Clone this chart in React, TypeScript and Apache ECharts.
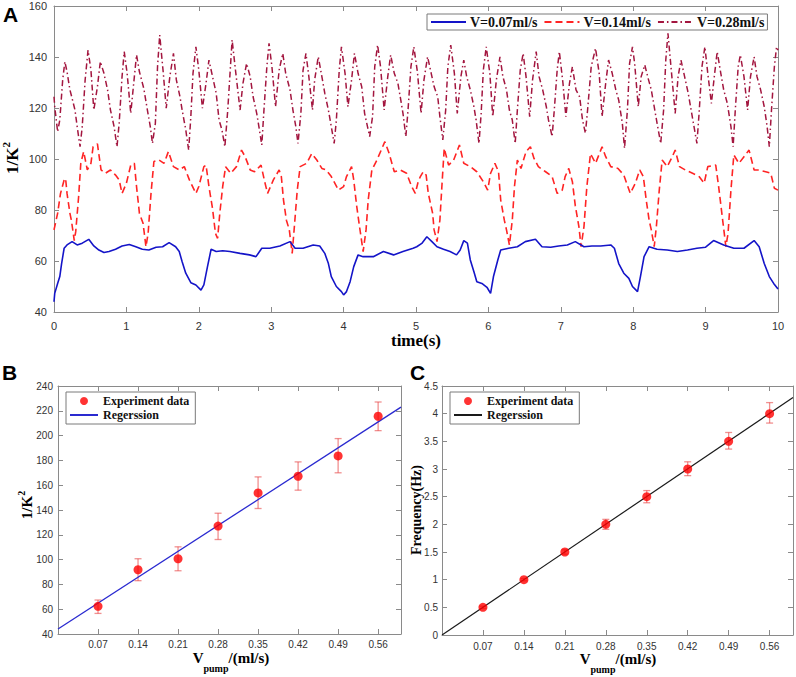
import React, { useEffect, useRef } from 'react';
import * as echarts from 'echarts';

// ---------- Panel A data (time in s, value 1/K^2) ----------
const flow007: [number, number][] = [
  [0.0, 44.0], [0.01, 47.3], [0.05, 51.2], [0.08, 53.9], [0.105, 59], [0.14, 65], [0.18, 66.3], [0.25, 67.6],
  [0.32, 66.3], [0.39, 67], [0.48, 68.5], [0.55, 65.9], [0.62, 64.3], [0.69, 63.3], [0.76, 63.7], [0.85, 64.6],
  [0.94, 65.9], [1.04, 66.5], [1.13, 65.6], [1.22, 64.6], [1.31, 64.3], [1.41, 65.4], [1.5, 65.6], [1.59, 67.2],
  [1.68, 65.6], [1.73, 63.7], [1.77, 59.7], [1.82, 55.2], [1.89, 51.5], [1.96, 50.6], [2.03, 48.6], [2.07, 50.6],
  [2.12, 57.8], [2.17, 64.6], [2.24, 63.7], [2.33, 64], [2.43, 63.7], [2.57, 63], [2.7, 62.4], [2.79, 61.7],
  [2.87, 65], [2.98, 65], [3.12, 65.9], [3.26, 67.6], [3.33, 65], [3.44, 65], [3.58, 66.3], [3.67, 65.9],
  [3.74, 63], [3.79, 59], [3.83, 53.9], [3.9, 50], [3.97, 48], [4.0, 46.7], [4.04, 48], [4.09, 51.9],
  [4.14, 57.8], [4.2, 62.4], [4.27, 61.7], [4.41, 61.7], [4.55, 63.7], [4.69, 62.4], [4.82, 63.7], [4.96, 65],
  [5.01, 65.6], [5.08, 66.9], [5.15, 69.5], [5.22, 67.6], [5.29, 65.6], [5.38, 64.6], [5.47, 63.7], [5.56, 62.4],
  [5.61, 64.3], [5.66, 68], [5.71, 67], [5.75, 60.4], [5.8, 55.8], [5.84, 51.9], [5.91, 51.2], [5.98, 49.7],
  [6.03, 47.3], [6.07, 53.9], [6.13, 60.4], [6.17, 64.3], [6.28, 65], [6.4, 65.6], [6.51, 67.6], [6.65, 68.5],
  [6.74, 65.6], [6.86, 65.4], [6.97, 65.9], [7.09, 66.3], [7.2, 67.6], [7.32, 65.6], [7.43, 65.9], [7.55, 65.9],
  [7.69, 66.3], [7.74, 65], [7.8, 59], [7.87, 55.2], [7.94, 53.2], [7.99, 50], [8.06, 48], [8.1, 53.9],
  [8.15, 61.7], [8.22, 65.6], [8.33, 64.6], [8.47, 64.3], [8.61, 63.7], [8.75, 64.3], [8.88, 65], [9.0, 65.4],
  [9.11, 68], [9.25, 66.3], [9.39, 65], [9.53, 65], [9.67, 68], [9.74, 65.6], [9.81, 59], [9.88, 53.9],
  [9.94, 51.2], [10.0, 49],
];

const flow014: [number, number][] = [
  [0.0, 72.2], [0.05, 78.7], [0.09, 86.5], [0.14, 91.8], [0.16, 92.4], [0.18, 86.5], [0.22, 78.7], [0.24, 76],
  [0.28, 68], [0.3, 71.5], [0.34, 85.2], [0.37, 98.3], [0.41, 102.9], [0.46, 95.7], [0.51, 98.3], [0.54, 104.8],
  [0.6, 105.9], [0.65, 95.7], [0.71, 94.4], [0.78, 95.7], [0.85, 93.7], [0.9, 91.8], [0.94, 86.5], [1.0, 90.5],
  [1.06, 97.6], [1.11, 98.3], [1.14, 89.2], [1.18, 78.7], [1.23, 74.8], [1.27, 65.6], [1.3, 70.8], [1.34, 86.5],
  [1.38, 99], [1.45, 99.6], [1.52, 98.3], [1.58, 102.9], [1.65, 97], [1.73, 95.7], [1.8, 97], [1.87, 91.8],
  [1.96, 86.5], [2.0, 89.2], [2.07, 97], [2.1, 97.6], [2.14, 89.2], [2.19, 80.5], [2.23, 70.8], [2.26, 68.9],
  [2.29, 78.7], [2.33, 89.2], [2.37, 97], [2.44, 94.4], [2.52, 97], [2.59, 103.5], [2.64, 100.9], [2.71, 95.7],
  [2.77, 95], [2.86, 97.6], [2.91, 91.1], [2.95, 86.5], [3.03, 91.8], [3.11, 95.7], [3.14, 93.1], [3.17, 83.9],
  [3.21, 76], [3.25, 72.2], [3.29, 63], [3.32, 73.5], [3.36, 87.8], [3.4, 97], [3.49, 98.3], [3.56, 102.1],
  [3.63, 99.6], [3.7, 96.3], [3.76, 95.7], [3.83, 93.1], [3.93, 87.8], [4.0, 89.2], [4.04, 93.1], [4.11, 97],
  [4.14, 91.8], [4.18, 81.7], [4.22, 73.5], [4.27, 63.7], [4.31, 72.2], [4.34, 83.9], [4.39, 95.7], [4.46, 99.6],
  [4.53, 104.2], [4.57, 106.8], [4.63, 102.1], [4.7, 95], [4.78, 95.7], [4.87, 94.4], [4.94, 89.2], [4.99, 86.5],
  [5.03, 91.1], [5.06, 93.1], [5.1, 95], [5.14, 93.7], [5.17, 86.5], [5.23, 78.7], [5.25, 72.2], [5.29, 67.6],
  [5.33, 76], [5.36, 90.5], [5.39, 104.2], [5.45, 97.6], [5.52, 99.6], [5.6, 105.5], [5.66, 98.3], [5.75, 97],
  [5.84, 95], [5.93, 91.1], [5.99, 87.8], [6.03, 94.4], [6.09, 98.3], [6.14, 95], [6.17, 83.9], [6.22, 76],
  [6.25, 72.2], [6.29, 66.3], [6.33, 76], [6.36, 89.2], [6.4, 99.6], [6.45, 96.3], [6.52, 102.9], [6.58, 104.8],
  [6.63, 100.2], [6.69, 97], [6.79, 95], [6.88, 93.1], [6.95, 86.5], [7.02, 87.8], [7.06, 93.1], [7.11, 96.3],
  [7.16, 91.1], [7.2, 81.7], [7.25, 73.5], [7.28, 65.6], [7.32, 73.5], [7.36, 89.2], [7.41, 102.1], [7.48, 98.3],
  [7.57, 104.8], [7.62, 100.9], [7.69, 97], [7.79, 96.3], [7.87, 93.7], [7.96, 86.5], [8.03, 90.5], [8.09, 95.7],
  [8.14, 93.1], [8.18, 83.9], [8.22, 76], [8.25, 72.2], [8.29, 65.6], [8.32, 73.5], [8.36, 87.8], [8.4, 99.6],
  [8.47, 97], [8.54, 100.9], [8.58, 103.5], [8.64, 97], [8.72, 95.7], [8.82, 94.4], [8.91, 93.1], [8.98, 90.5],
  [9.03, 97], [9.14, 97.6], [9.18, 89.2], [9.23, 77.4], [9.28, 65.6], [9.31, 70.8], [9.35, 87.8], [9.39, 101.6],
  [9.46, 98.3], [9.53, 100.9], [9.6, 103.5], [9.67, 95.7], [9.74, 95.7], [9.83, 95], [9.9, 94.4], [9.95, 88.5],
  [10.0, 87.8],
];

const flow028: [number, number][] = [
  [0.0, 124.4], [0.01, 120.5], [0.05, 110.7], [0.08, 115.3], [0.12, 131], [0.15, 138.2], [0.18, 134.2], [0.22, 127.1],
  [0.25, 123.8], [0.29, 119.2], [0.32, 112.7], [0.36, 104.8], [0.39, 112.7], [0.43, 131], [0.47, 142.7], [0.51, 134.9],
  [0.55, 119.2], [0.6, 128.4], [0.64, 138.2], [0.69, 133.6], [0.74, 127.1], [0.78, 119.2], [0.83, 112.7], [0.87, 104.8],
  [0.9, 114], [0.94, 132.3], [0.97, 142.1], [1.01, 133.6], [1.06, 117.9], [1.11, 132.3], [1.14, 140.8], [1.18, 134.2],
  [1.24, 127.7], [1.29, 119.2], [1.33, 112.7], [1.36, 106.1], [1.4, 114], [1.43, 136.2], [1.46, 148.6], [1.51, 133.6],
  [1.55, 119.9], [1.6, 132.3], [1.65, 141.4], [1.69, 131], [1.74, 124.4], [1.77, 119.2], [1.82, 111.4], [1.86, 103.5],
  [1.89, 116.6], [1.92, 133.6], [1.96, 144], [2.0, 134.9], [2.05, 119.9], [2.1, 129.7], [2.14, 138.8], [2.19, 132.3],
  [2.24, 125.8], [2.28, 115.3], [2.32, 111.4], [2.36, 104.8], [2.4, 119.2], [2.46, 146.7], [2.51, 134], [2.57, 119.2],
  [2.61, 129.7], [2.66, 137.5], [2.71, 132.3], [2.75, 124.4], [2.8, 117.9], [2.83, 112.7], [2.87, 105.5], [2.9, 119.2],
  [2.94, 136.2], [2.97, 145.4], [3.01, 136.2], [3.06, 120.5], [3.11, 134.9], [3.16, 141.4], [3.2, 133.6], [3.26, 127.1],
  [3.3, 119.2], [3.34, 112.7], [3.37, 106.1], [3.41, 117.9], [3.44, 134.9], [3.48, 141.4], [3.52, 132.3], [3.57, 119.2],
  [3.6, 131], [3.65, 140.1], [3.7, 132.3], [3.74, 125.8], [3.79, 119.2], [3.83, 112.7], [3.87, 106.1], [3.9, 115.3],
  [3.94, 134.9], [3.97, 144], [4.02, 133.6], [4.06, 120.5], [4.11, 131], [4.15, 141.4], [4.2, 133.6], [4.25, 128.4],
  [4.29, 117.9], [4.33, 112.7], [4.36, 108.8], [4.4, 116.6], [4.43, 136.2], [4.47, 144.7], [4.51, 136.2], [4.56, 119.2],
  [4.61, 132.3], [4.65, 140.8], [4.7, 133.6], [4.75, 129.7], [4.79, 123.1], [4.82, 117.9], [4.86, 108.8], [4.89, 119.2],
  [4.93, 136.2], [4.97, 144], [5.02, 134], [5.07, 117.9], [5.11, 131], [5.16, 140.1], [5.21, 133.6], [5.25, 128.4],
  [5.3, 124.4], [5.33, 116.6], [5.37, 107.5], [5.41, 119.2], [5.44, 136.2], [5.48, 144.7], [5.53, 133.6], [5.57, 117.9],
  [5.62, 132.3], [5.66, 138.8], [5.7, 132.3], [5.75, 127.1], [5.8, 120.5], [5.83, 115.3], [5.87, 106.1], [5.9, 117.9],
  [5.93, 134.9], [5.97, 144], [6.02, 133.6], [6.06, 116.6], [6.11, 131], [6.16, 140.1], [6.2, 132.3], [6.25, 127.1],
  [6.29, 119.2], [6.33, 115.3], [6.37, 106.1], [6.4, 119.2], [6.44, 134.9], [6.48, 141.4], [6.52, 132.3], [6.57, 116.6],
  [6.61, 131], [6.66, 142.1], [6.7, 132.3], [6.75, 127.1], [6.8, 120.5], [6.83, 115.3], [6.88, 108.8], [6.91, 119.2],
  [6.95, 134.9], [6.98, 142.1], [7.03, 129.7], [7.07, 116.6], [7.12, 129.7], [7.16, 136.2], [7.21, 127.1], [7.26, 124.4],
  [7.3, 115.3], [7.34, 110.1], [7.37, 119.2], [7.42, 136.2], [7.48, 143.4], [7.53, 133.6], [7.57, 116.6], [7.62, 129.7],
  [7.66, 138.8], [7.71, 133.6], [7.76, 127.1], [7.8, 123.1], [7.85, 114], [7.88, 104.2], [7.92, 119.2], [7.95, 137.5],
  [7.99, 144], [8.02, 137.5], [8.07, 120.5], [8.11, 132.3], [8.16, 136.9], [8.2, 132.3], [8.25, 127.1], [8.29, 120.5],
  [8.33, 114], [8.38, 106.1], [8.42, 119.2], [8.45, 138.8], [8.48, 149.3], [8.53, 133.6], [8.58, 117.9], [8.62, 132.3],
  [8.66, 138.8], [8.71, 132.3], [8.76, 125.8], [8.8, 119.2], [8.84, 112.7], [8.88, 106.1], [8.91, 117.9], [8.95, 136.2],
  [8.99, 144], [9.03, 133.6], [9.08, 121.8], [9.12, 132.3], [9.16, 142.1], [9.21, 133.6], [9.25, 127.1], [9.3, 121.8],
  [9.35, 112.7], [9.38, 104.8], [9.41, 119.2], [9.45, 136.2], [9.48, 140.8], [9.53, 132.3], [9.58, 119.2], [9.62, 132.3],
  [9.67, 140.1], [9.71, 132.3], [9.76, 127.1], [9.81, 120.5], [9.85, 112.7], [9.88, 104.8], [9.91, 119.2], [9.95, 136.2],
  [9.98, 144], [10.0, 142.7],
];

const seriesNamesA = ['V=0.07ml/s', 'V=0.14ml/s', 'V=0.28ml/s'];

// ---------- Panels B and C ----------
const pumpRates = [0.07, 0.14, 0.21, 0.28, 0.35, 0.42, 0.49, 0.56];
const invK2 = [62.3, 91.8, 100.7, 127, 153.8, 167.2, 183.6, 215.6];
const invK2Low = [56.6, 83, 91, 116.2, 141.2, 156, 170, 204];
const invK2High = [67.4, 100.7, 110.3, 137.4, 166.7, 178.8, 197.6, 227.1];
const regressionB: [number, number][] = [[0, 44], [0.6, 223]];

const frequency = [0.5, 1, 1.5, 2, 2.5, 3, 3.5, 4];
const frequencyLow = [0.48, 0.98, 1.46, 1.91, 2.39, 2.88, 3.36, 3.83];
const frequencyHigh = [0.52, 1.02, 1.54, 2.09, 2.61, 3.13, 3.66, 4.2];
const regressionC: [number, number][] = [[0, 0], [0.6, 4.29]];

const SERIF = '"Liberation Serif", "Times New Roman", serif';
const SANS = '"Liberation Sans", Arial, sans-serif';
const AXIS_GRAY = '#8a8a8a';
const LABEL_COLOR = '#333333';

function boxAxes(gridIndex: number, kind: 'x' | 'y', min: number, max: number, interval: number, labelOpts: any) {
  const main = {
    type: 'value', gridIndex, min, max, interval,
    position: kind === 'x' ? 'bottom' : 'left',
    axisLine: { show: true, onZero: false, lineStyle: { color: AXIS_GRAY, width: 1 } },
    axisTick: { show: true, inside: true, length: 5, lineStyle: { color: AXIS_GRAY } },
    axisLabel: { color: LABEL_COLOR, fontFamily: SANS, ...labelOpts },
    splitLine: { show: false },
  };
  const mirror = {
    type: 'value', gridIndex, min, max, interval,
    position: kind === 'x' ? 'top' : 'right',
    axisLine: { show: true, onZero: false, lineStyle: { color: AXIS_GRAY, width: 1 } },
    axisTick: { show: true, inside: true, length: 5, lineStyle: { color: AXIS_GRAY } },
    axisLabel: { show: false },
    splitLine: { show: false },
  };
  return [main, mirror];
}

function errorBars(xAxisIndex: number, yAxisIndex: number, lows: number[], highs: number[]) {
  return {
    type: 'custom',
    xAxisIndex, yAxisIndex,
    silent: true,
    z: 1,
    data: pumpRates.map((x, i) => [x, lows[i], highs[i]]),
    encode: { x: 0, y: [1, 2] },
    renderItem: (_params: any, api: any) => {
      const x = api.value(0);
      const lo = api.coord([x, api.value(1)]);
      const hi = api.coord([x, api.value(2)]);
      const cap = 3.5;
      const style = { stroke: 'rgba(232,70,70,0.6)', lineWidth: 1.3 };
      return {
        type: 'group',
        children: [
          { type: 'line', shape: { x1: lo[0], y1: lo[1], x2: hi[0], y2: hi[1] }, style },
          { type: 'line', shape: { x1: hi[0] - cap, y1: hi[1], x2: hi[0] + cap, y2: hi[1] }, style },
          { type: 'line', shape: { x1: lo[0] - cap, y1: lo[1], x2: lo[0] + cap, y2: lo[1] }, style },
        ],
      };
    },
  };
}

const pumpLabel = (v: number) => (v < 0.01 || v > 0.585 ? '' : v.toFixed(2));
const noMarker = { opacity: 0 };

export default function App() {
  const ref = useRef<HTMLDivElement>(null);

  useEffect(() => {
    if (!ref.current) return;
    const chart = echarts.init(ref.current, null, { renderer: 'svg' });

    const [xA, xA2] = boxAxes(0, 'x', 0, 10, 1, { fontSize: 11, margin: 8 });
    const [yA, yA2] = boxAxes(0, 'y', 40, 160, 20, { fontSize: 11, margin: 7 });
    const [xB, xB2] = boxAxes(1, 'x', 0, 0.6, 0.07, { fontSize: 10, margin: 5, formatter: pumpLabel });
    const [yB, yB2] = boxAxes(1, 'y', 40, 240, 20, { fontSize: 10, margin: 5 });
    const [xC, xC2] = boxAxes(2, 'x', 0, 0.6, 0.07, { fontSize: 10, margin: 6, formatter: pumpLabel });
    const [yC, yC2] = boxAxes(2, 'y', 0, 4.5, 0.5, { fontSize: 10, margin: 4 });

    const legendText = { fontFamily: SERIF, fontWeight: 'bold', color: '#111' };

    const vpumpLabel = (x: number, y: number) => ({
      type: 'text', x, y,
      style: {
        text: '{a|V}{b|pump}{a|/(ml/s)}', align: 'center', verticalAlign: 'middle', textAlign: 'center', textVerticalAlign: 'middle',
        fill: '#000',
        rich: {
          a: { font: `bold 15px ${SERIF}`, lineHeight: 30, fill: '#000' },
          b: { font: `bold 10px ${SERIF}`, lineHeight: 10, verticalAlign: 'bottom', fill: '#000' },
        },
      },
    });

    const option: any = {
      animation: false,
      backgroundColor: '#ffffff',
      grid: [
        { left: 54, top: 6, width: 724, height: 306 },
        { left: 58, top: 386, width: 343, height: 248 },
        { left: 442, top: 386, width: 351, height: 249 },
      ],
      xAxis: [xA, xA2, xB, xB2, xC, xC2],
      yAxis: [yA, yA2, yB, yB2, yC, yC2],
      legend: [
        {
          data: seriesNamesA.map((name) => ({ name, itemStyle: noMarker })),
          left: 427, top: 14,
          orient: 'horizontal',
          itemWidth: 35, itemHeight: 10, itemGap: 6,
          padding: [1, 3, 1, 3],
          backgroundColor: '#ffffff',
          borderColor: '#7a7a7a', borderWidth: 1,
          textStyle: { ...legendText, fontSize: 14, padding: [0, 0, 0, -1] },
        },
        {
          data: ['Experiment data', { name: 'Regerssion', itemStyle: noMarker }],
          left: 66, top: 392,
          orient: 'vertical',
          itemWidth: 28, itemHeight: 8, itemGap: 2,
          padding: [3, 6, 3, 3],
          backgroundColor: '#ffffff',
          borderColor: '#7a7a7a', borderWidth: 1,
          textStyle: { ...legendText, fontSize: 12 },
        },
        {
          data: ['Experiment data ', { name: 'Regerssion ', itemStyle: noMarker }],
          formatter: (n: string) => n.trim(),
          left: 450, top: 392,
          orient: 'vertical',
          itemWidth: 28, itemHeight: 8, itemGap: 2,
          padding: [3, 6, 3, 3],
          backgroundColor: '#ffffff',
          borderColor: '#7a7a7a', borderWidth: 1,
          textStyle: { ...legendText, fontSize: 12 },
        },
      ],
      series: [
        {
          name: seriesNamesA[0], type: 'line', xAxisIndex: 0, yAxisIndex: 0,
          data: flow007, symbol: 'none', z: 4,
          lineStyle: { color: '#1414c8', width: 1.6 }, itemStyle: { color: '#1414c8' },
        },
        {
          name: seriesNamesA[1], type: 'line', xAxisIndex: 0, yAxisIndex: 0,
          data: flow014, symbol: 'none', z: 3,
          lineStyle: { color: '#ff2424', width: 1.6, type: [7, 4] }, itemStyle: { color: '#ff2424' },
        },
        {
          name: seriesNamesA[2], type: 'line', xAxisIndex: 0, yAxisIndex: 0,
          data: flow028, symbol: 'none', z: 2,
          lineStyle: { color: '#a3163f', width: 1.5, type: [6, 3, 1.5, 3] }, itemStyle: { color: '#a3163f' },
        },
        errorBars(2, 2, invK2Low, invK2High),
        {
          name: 'Regerssion', type: 'line', xAxisIndex: 2, yAxisIndex: 2,
          data: regressionB, symbol: 'none', z: 2,
          lineStyle: { color: '#2a2ad0', width: 1.3 }, itemStyle: { color: '#2a2ad0' },
        },
        {
          name: 'Experiment data', type: 'scatter', xAxisIndex: 2, yAxisIndex: 2,
          data: pumpRates.map((x, i) => [x, invK2[i]]), symbol: 'circle', symbolSize: 9, z: 5,
          itemStyle: { color: '#ff0000' },
        },
        errorBars(4, 4, frequencyLow, frequencyHigh),
        {
          name: 'Regerssion ', type: 'line', xAxisIndex: 4, yAxisIndex: 4,
          data: regressionC, symbol: 'none', z: 2,
          lineStyle: { color: '#1a1a1a', width: 1.2 }, itemStyle: { color: '#1a1a1a' },
        },
        {
          name: 'Experiment data ', type: 'scatter', xAxisIndex: 4, yAxisIndex: 4,
          data: pumpRates.map((x, i) => [x, frequency[i]]), symbol: 'circle', symbolSize: 9, z: 5,
          itemStyle: { color: '#ff0000' },
        },
      ],
      graphic: [
        { type: 'text', x: 3, y: 4, style: { text: 'A', font: `bold 21px ${SANS}`, fill: '#000' } },
        { type: 'text', x: 2, y: 362, style: { text: 'B', font: `bold 21px ${SANS}`, fill: '#000' } },
        { type: 'text', x: 410, y: 362, style: { text: 'C', font: `bold 21px ${SANS}`, fill: '#000' } },
        {
          type: 'text', x: 12, y: 158, rotation: Math.PI / 2,
          style: {
            text: '{m|1/K}{s|2}', align: 'center', verticalAlign: 'middle', textAlign: 'center', textVerticalAlign: 'middle',
            fill: '#000',
            rich: {
              m: { font: `bold 17px ${SERIF}`, lineHeight: 24, fill: '#000' },
              s: { font: `bold 11px ${SERIF}`, lineHeight: 11, verticalAlign: 'top', fill: '#000' },
            },
          },
        },
        {
          type: 'text', x: 416, y: 340,
          style: { text: 'time(s)', font: `bold 17px ${SERIF}`, fill: '#000', align: 'center', verticalAlign: 'middle', textAlign: 'center', textVerticalAlign: 'middle' },
        },
        {
          type: 'text', x: 27, y: 505, rotation: Math.PI / 2,
          style: {
            text: '{m|1/K}{s|2}', align: 'center', verticalAlign: 'middle', textAlign: 'center', textVerticalAlign: 'middle',
            fill: '#000',
            rich: {
              m: { font: `bold 15px ${SERIF}`, lineHeight: 22, fill: '#000' },
              s: { font: `bold 10px ${SERIF}`, lineHeight: 10, verticalAlign: 'top', fill: '#000' },
            },
          },
        },
        {
          type: 'text', x: 416, y: 510, rotation: Math.PI / 2,
          style: { text: 'Frequency(Hz)', font: `bold 14px ${SERIF}`, fill: '#000', align: 'center', verticalAlign: 'middle', textAlign: 'center', textVerticalAlign: 'middle' },
        },
        vpumpLabel(231, 658),
        vpumpLabel(618, 659),
      ],
    };

    chart.setOption(option);
    return () => chart.dispose();
  }, []);

  return (
    <div
      ref={ref}
      style={{ position: 'absolute', left: 0, top: 0, width: 796, height: 677, background: '#fff' }}
    />
  );
}
